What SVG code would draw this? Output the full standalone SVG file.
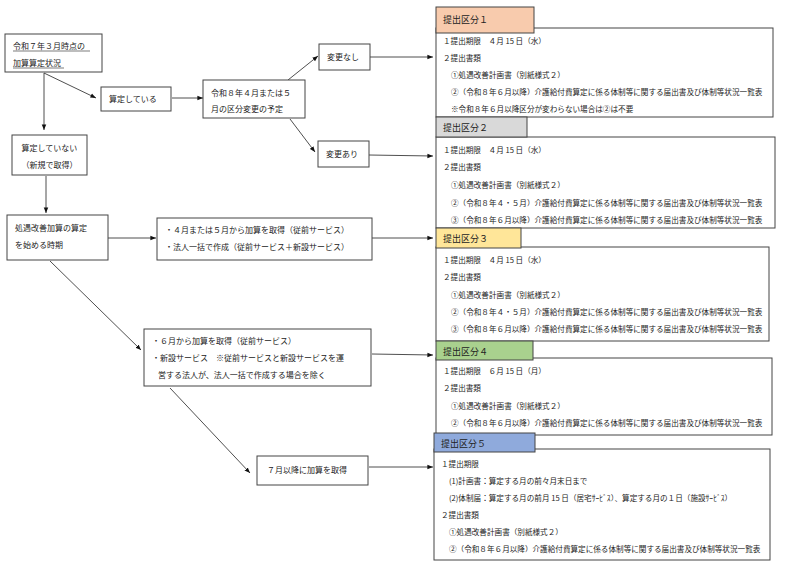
<svg xmlns="http://www.w3.org/2000/svg" width="800" height="566" viewBox="0 0 800 566">
<style>
text{font-family:"Noto Sans CJK JP","Noto Sans CJK SC",sans-serif;font-size:8px;fill:#222}
.b{fill:#fff;stroke:#444;stroke-width:1}
.t{stroke:#444;stroke-width:1}
.c{stroke:#222;stroke-width:0.8;fill:none;marker-end:url(#a)}
.s{font-size:7.6px}
.h{font-size:9px}
</style>
<defs><marker id="a" viewBox="0 0 10 10" refX="10" refY="5" markerWidth="7" markerHeight="7" orient="auto"><path d="M0,1L10,5L0,9z" fill="#111"/></marker></defs>
<rect width="800" height="566" fill="#fff"/>
<g id="connectors">
<line class="c" x1="44" y1="73" x2="44" y2="130"/>
<line class="c" x1="44" y1="73" x2="96" y2="98"/>
<line class="c" x1="172" y1="98" x2="203" y2="98"/>
<line class="c" x1="288" y1="80" x2="318" y2="56"/>
<line class="c" x1="290" y1="119" x2="315" y2="152"/>
<line class="c" x1="370" y1="57" x2="433" y2="57"/>
<line class="c" x1="369" y1="155" x2="433" y2="156"/>
<line class="c" x1="46" y1="176" x2="46" y2="213"/>
<line class="c" x1="108" y1="238" x2="156" y2="238"/>
<line class="c" x1="372" y1="238" x2="433" y2="238"/>
<line class="c" x1="50" y1="261" x2="141" y2="350"/>
<line class="c" x1="372" y1="354" x2="433" y2="355"/>
<line class="c" x1="170" y1="388" x2="250" y2="473"/>
<line class="c" x1="369" y1="467" x2="433" y2="467"/>
</g>
<g id="n-start"><rect class="b" x="5" y="34" width="97" height="38"/><text x="13" y="49">令和７年３月時点の</text><text x="13" y="66">加算算定状況</text><line x1="13" y1="51" x2="90" y2="51" stroke="#222" stroke-width="0.6"/><line x1="13" y1="68" x2="64" y2="68" stroke="#222" stroke-width="0.6"/></g>
<g id="n-santei"><rect class="b" x="101" y="87" width="70" height="24"/><text x="109" y="102">算定している</text></g>
<g id="n-r8"><rect class="b" x="203" y="80" width="102" height="38"/><text x="211" y="96">令和８年４月または５</text><text x="211" y="112">月の区分変更の予定</text></g>
<g id="n-nashi"><rect class="b" x="319" y="44" width="51" height="26"/><text x="327" y="60">変更なし</text></g>
<g id="n-ari"><rect class="b" x="318" y="141" width="51" height="26"/><text x="326" y="157">変更あり</text></g>
<g id="n-nai"><rect class="b" x="12" y="135" width="75" height="40"/><text x="49.5" y="151" text-anchor="middle">算定していない</text><text x="49.5" y="168" text-anchor="middle">（新規で取得）</text></g>
<g id="n-jiki"><rect class="b" x="7" y="215" width="101" height="45"/><text x="15" y="231">処遇改善加算の算定</text><text x="15" y="248">を始める時期</text></g>
<g id="n-45"><rect class="b" x="157" y="218" width="215" height="42"/><text x="165" y="233">・４月または５月から加算を取得（従前サービス）</text><text x="165" y="250">・法人一括で作成（従前サービス＋新設サービス）</text></g>
<g id="n-6"><rect class="b" x="144" y="329" width="227" height="57"/><text x="152" y="344">・６月から加算を取得（従前サービス）</text><text x="152" y="361">・新設サービス　※従前サービスと新設サービスを運</text><text x="158" y="378">営する法人が、法人一括で作成する場合を除く</text></g>
<g id="n-7"><rect class="b" x="257" y="456" width="111" height="29"/><text x="267" y="473">７月以降に加算を取得</text></g>
<g id="k1"><rect class="b" x="436" y="28" width="337" height="89"/><rect class="t" x="436" y="7" width="98" height="26" fill="#f8cbad"/><text class="h" x="443" y="23">提出区分１</text>
<text class="s" x="443" y="44">１提出期限　４月 15 日（水）</text><text class="s" x="443" y="61">２提出書類</text><text class="s" x="451" y="78">①処遇改善計画書（別紙様式２）</text><text class="s" x="451" y="95">②（令和８年６月以降）介護給付費算定に係る体制等に関する届出書及び体制等状況一覧表</text><text class="s" x="451" y="112">※令和８年６月以降区分が変わらない場合は②は不要</text></g>
<g id="k2"><rect class="b" x="436" y="137" width="339" height="91"/><rect class="t" x="436" y="117" width="91" height="20" fill="#d9d9d9"/><text class="h" x="443" y="131">提出区分２</text>
<text class="s" x="443" y="153">１提出期限　４月 15 日（水）</text><text class="s" x="443" y="170">２提出書類</text><text class="s" x="451" y="188">①処遇改善計画書（別紙様式２）</text><text class="s" x="451" y="206">②（令和８年４・５月）介護給付費算定に係る体制等に関する届出書及び体制等状況一覧表</text><text class="s" x="451" y="223">③（令和８年６月以降）介護給付費算定に係る体制等に関する届出書及び体制等状況一覧表</text></g>
<g id="k3"><rect class="b" x="436" y="247" width="333" height="94"/><rect class="t" x="436" y="228" width="85" height="20" fill="#ffe699"/><text class="h" x="443" y="242">提出区分３</text>
<text class="s" x="443" y="263">１提出期限　４月 15 日（水）</text><text class="s" x="443" y="280">２提出書類</text><text class="s" x="451" y="298">①処遇改善計画書（別紙様式２）</text><text class="s" x="451" y="315">②（令和８年４・５月）介護給付費算定に係る体制等に関する届出書及び体制等状況一覧表</text><text class="s" x="451" y="332">③（令和８年６月以降）介護給付費算定に係る体制等に関する届出書及び体制等状況一覧表</text></g>
<g id="k4"><rect class="b" x="436" y="358" width="336" height="77"/><rect class="t" x="436" y="341" width="97" height="19" fill="#a9d18e"/><text class="h" x="443" y="355">提出区分４</text>
<text class="s" x="443" y="374">１提出期限　６月 15 日（月）</text><text class="s" x="443" y="391">２提出書類</text><text class="s" x="451" y="409">①処遇改善計画書（別紙様式２）</text><text class="s" x="451" y="426">②（令和８年６月以降）介護給付費算定に係る体制等に関する届出書及び体制等状況一覧表</text></g>
<g id="k5"><rect class="b" x="434" y="449" width="336" height="111"/><rect class="t" x="434" y="433" width="101" height="19" fill="#8faadc"/><text class="h" x="441" y="447">提出区分５</text>
<text class="s" x="441" y="467">１提出期限</text><text class="s" x="449" y="484">(1)計画書：算定する月の前々月末日まで</text><text class="s" x="449" y="501">(2)体制届：算定する月の前月 15 日（居宅ｻｰﾋﾞｽ）、算定する月の１日（施設ｻｰﾋﾞｽ）</text><text class="s" x="441" y="518">２提出書類</text><text class="s" x="449" y="535">①処遇改善計画書（別紙様式２）</text><text class="s" x="449" y="552">②（令和８年６月以降）介護給付費算定に係る体制等に関する届出書及び体制等状況一覧表</text></g>
</svg>
